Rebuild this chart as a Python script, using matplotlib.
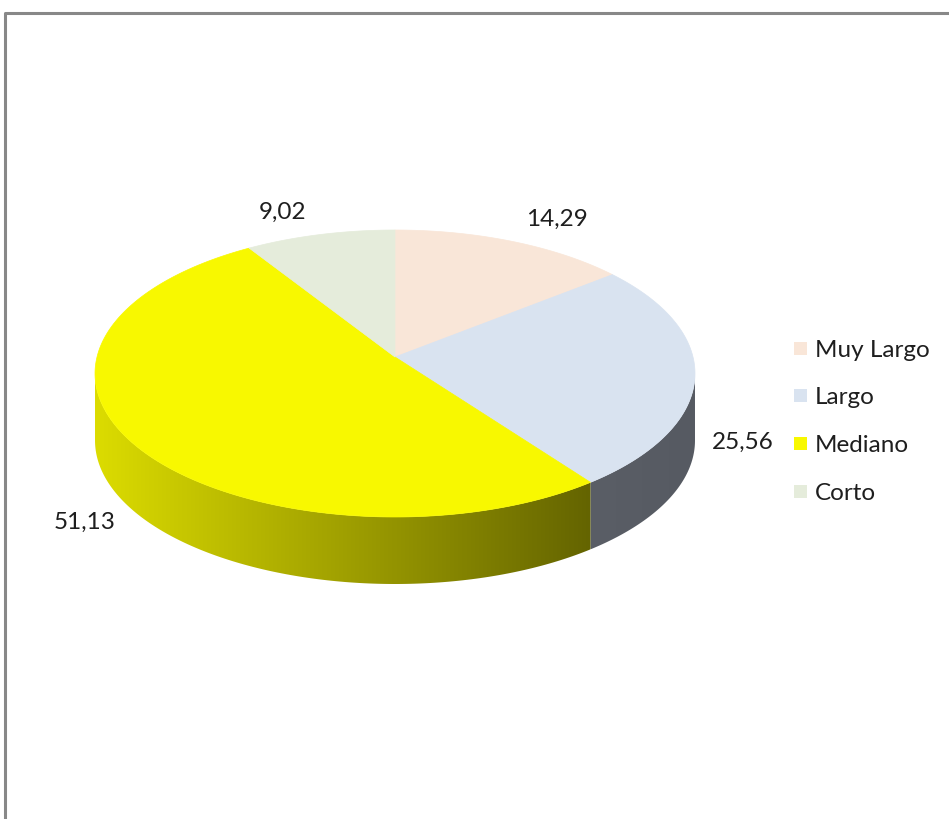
import numpy as np
import matplotlib.pyplot as plt
from matplotlib.patches import Polygon, Rectangle
from matplotlib.colors import LinearSegmentedColormap

# Distribución de la muestra por categoría (%)
categorias = ['Muy Largo', 'Largo', 'Mediano', 'Corto']
valores = [14.29, 25.56, 51.13, 9.02]
etiquetas = ['14,29', '25,56', '51,13', '9,02']

colores_top = ['#F9E6D8', '#D9E3F0', '#F8F800', '#E5ECDB']
colores_lado = [None, ('#5A5E66', '#565A62'), ('#DCDC00', '#646400'), None]

# geometría del pastel en perspectiva (coordenadas en píxeles)
cx, cy = 395, 358      # centro proyectado
ax_h, ax_v = 298, 141.6
k = 0.115              # intensidad de la perspectiva
prof = 67

fig = plt.figure(figsize=(9.49, 8.2), dpi=100)
ax = fig.add_axes([0, 0, 1, 1])
ax.set_xlim(0, 949)
ax.set_ylim(820, 0)
ax.axis('off')

# marco del gráfico
ax.plot([5, 5, 949], [820, 14, 14], color='#888888', lw=2.2, solid_capstyle='butt')


def punto(theta):
    t = np.radians(theta)
    u, v = np.sin(t), np.cos(t)
    d = 1 + k * v
    return cx + ax_h * u / d, cy - ax_v * v / d


fracs = np.array(valores) / sum(valores)
limites = np.concatenate([[0], np.cumsum(fracs) * 360])

# caras laterales visibles (entre los puntos de la silueta)
th_sil = np.degrees(np.arccos(-k))
for i in range(len(valores)):
    a0, a1 = max(limites[i], th_sil), min(limites[i + 1], 360 - th_sil)
    if a1 <= a0 or colores_lado[i] is None:
        continue
    th = np.linspace(a0, a1, 150)
    xs, ys = punto(th)
    pts = np.column_stack([np.concatenate([xs, xs[::-1]]),
                           np.concatenate([ys, ys[::-1] + prof])])
    poly = Polygon(pts, closed=True, facecolor='none', edgecolor='none')
    ax.add_patch(poly)
    # degradado horizontal de claro (izquierda) a oscuro (derecha)
    cmap = LinearSegmentedColormap.from_list('lado', list(colores_lado[i]))
    grad = np.linspace(0, 1, 256).reshape(1, -1)
    img = ax.imshow(grad, cmap=cmap, aspect='auto',
                    extent=[xs.min(), xs.max(), ys.max() + prof, ys.min()],
                    interpolation='bilinear', zorder=1)
    img.set_clip_path(poly)

# cara superior
for i in range(len(valores)):
    th = np.linspace(limites[i], limites[i + 1], 200)
    xs, ys = punto(th)
    pts = np.vstack([[(cx, cy)], np.column_stack([xs, ys])])
    ax.add_patch(Polygon(pts, closed=True, facecolor=colores_top[i],
                         edgecolor=colores_top[i], lw=0.5, zorder=2))

# etiquetas de datos
pos_etiquetas = [(557, 219), (743, 442), (85, 522), (283, 212)]
for txt, (x, y) in zip(etiquetas, pos_etiquetas):
    ax.text(x, y, txt, ha='center', va='center', fontsize=17.5,
            family='Lato', color='#1E1E1E', zorder=3)

# leyenda
ley_y = [350, 397, 445, 493]
for cat, col, y in zip(categorias, colores_top, ley_y):
    ax.add_patch(Rectangle((794, y - 7), 13, 13, facecolor=col,
                           edgecolor='none', zorder=3))
    ax.text(815, y + 1, cat, ha='left', va='center', fontsize=17.5,
            family='Lato', color='#1E1E1E', zorder=3)

fig.savefig('out.png', dpi=100)
